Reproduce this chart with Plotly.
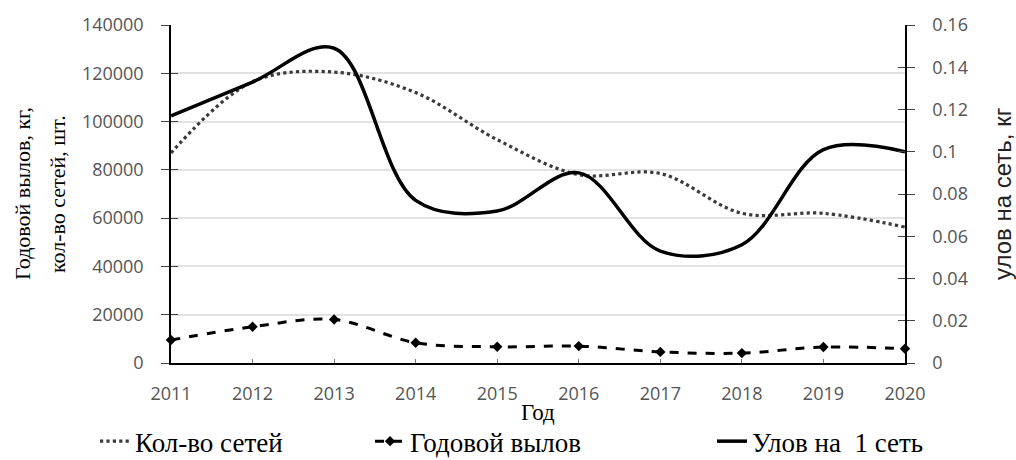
import plotly.graph_objects as go

# Годы наблюдений
years = [2011, 2012, 2013, 2014, 2015, 2016, 2017, 2018, 2019, 2020]

# Количество сетей, шт.
nets_count = [87000, 116500, 120500, 112000, 92500, 78000, 78500, 62000, 62000, 56300]

# Годовой вылов, кг
annual_catch = [9500, 15000, 18000, 8400, 6700, 7000, 4600, 4100, 6600, 5900]

# Улов на 1 сеть, кг
catch_per_net = [0.117, 0.133, 0.149, 0.077, 0.072, 0.090, 0.053, 0.056, 0.101, 0.100]

left_ticks = [0, 20000, 40000, 60000, 80000, 100000, 120000, 140000]
right_ticks = [0, 0.02, 0.04, 0.06, 0.08, 0.10, 0.12, 0.14, 0.16]
right_labels = ["0", "0.02", "0.04", "0.06", "0.08", "0.1", "0.12", "0.14", "0.16"]

W, H = 1016, 460
ML, MR, MT, MB = 171, 111, 25, 97
PW = W - ML - MR
PH = H - MT - MB

tick_font = dict(family="Open Sans", size=18, color="#555555")
serif = "Liberation Serif, DejaVu Serif, serif"
sans = "Liberation Sans, DejaVu Sans, sans-serif"

fig = go.Figure()

fig.add_trace(go.Scatter(
    x=years, y=nets_count, name="Кол-во сетей", mode="lines",
    line=dict(color="#3a3a3a", width=3.2, dash="dot", shape="spline", smoothing=1.0),
    yaxis="y", cliponaxis=False, legend="legend",
))

fig.add_trace(go.Scatter(
    x=years, y=annual_catch, name="Годовой вылов", mode="lines+markers",
    line=dict(color="black", width=3, dash="dash", shape="spline", smoothing=1.0),
    marker=dict(symbol="diamond", size=8, color="black"),
    yaxis="y", cliponaxis=False, legend="legend2",
))

fig.add_trace(go.Scatter(
    x=years, y=catch_per_net, name="Улов на  1 сеть", mode="lines",
    line=dict(color="black", width=3.5, shape="spline", smoothing=1.0),
    yaxis="y2", cliponaxis=False, legend="legend3",
))

# Вспомогательные оси: внутренние засечки, чтобы деления пересекали ось
fig.add_trace(go.Scatter(x=[years[0]], y=[None], yaxis="y3", showlegend=False,
                         hoverinfo="skip"))
fig.add_trace(go.Scatter(x=[years[0]], y=[None], yaxis="y4", showlegend=False,
                         hoverinfo="skip"))

legend_common = dict(
    orientation="h", xref="container", yref="container",
    y=0.04, yanchor="middle", xanchor="left",
    font=dict(family=serif, size=27, color="black"),
    bgcolor="rgba(0,0,0,0)", borderwidth=0,
)

fig.update_layout(
    width=W, height=H,
    font=dict(family=serif),
    margin=dict(l=ML, r=MR, t=MT, b=MB, autoexpand=False),
    paper_bgcolor="white", plot_bgcolor="white",
    showlegend=True,
    legend=dict(legend_common, x=95 / W),
    legend2=dict(legend_common, x=370 / W),
    legend3=dict(legend_common, x=712 / W),
    xaxis=dict(
        range=[2011, 2020], tickmode="array", tickvals=years,
        ticktext=[str(y) for y in years], tickfont=tick_font,
        showline=True, linecolor="black", linewidth=1.5,
        ticks="inside", ticklen=4, tickcolor="#777777",
        ticklabelstandoff=14,
        showgrid=False, zeroline=False,
    ),
    yaxis=dict(
        range=[0, 140000], tickmode="array", tickvals=left_ticks,
        ticktext=[str(v) for v in left_ticks], tickfont=tick_font,
        showline=True, linecolor="black", linewidth=1.5,
        ticks="outside", ticklen=8, tickcolor="#444444",
        ticklabelstandoff=14,
        showgrid=True, gridcolor="#e2e2e2", gridwidth=2, zeroline=False,
    ),
    yaxis2=dict(
        range=[0, 0.16], overlaying="y", side="right",
        tickmode="array", tickvals=right_ticks, ticktext=right_labels,
        tickfont=tick_font,
        showline=True, linecolor="black", linewidth=1.5,
        ticks="outside", ticklen=8, tickcolor="#444444",
        ticklabelstandoff=14,
        showgrid=False, zeroline=False,
    ),
    yaxis3=dict(
        range=[0, 140000], overlaying="y", side="left",
        tickmode="array", tickvals=left_ticks, ticks="inside", ticklen=7,
        tickcolor="#444444", showticklabels=False, showline=False,
        showgrid=False, zeroline=False,
    ),
    yaxis4=dict(
        range=[0, 0.16], overlaying="y", side="right",
        tickmode="array", tickvals=right_ticks, ticks="inside", ticklen=7,
        tickcolor="#444444", showticklabels=False, showline=False,
        showgrid=False, zeroline=False,
    ),
    annotations=[
        dict(text="Год", showarrow=False,
             xref="paper", yref="paper", x=0.5, y=-(412 - (MT + PH)) / PH,
             xanchor="center", yanchor="middle",
             font=dict(family=serif, size=23, color="black")),
        dict(text="Годовой вылов, кг,", textangle=-90, showarrow=False,
             xref="paper", yref="paper", x=(22 - ML) / PW, y=0.5,
             xanchor="center", yanchor="middle",
             font=dict(family=serif, size=22, color="black")),
        dict(text="кол-во сетей, шт.", textangle=-90, showarrow=False,
             xref="paper", yref="paper", x=(57 - ML) / PW, y=0.5,
             xanchor="center", yanchor="middle",
             font=dict(family=serif, size=22, color="black")),
        dict(text="улов на сеть, кг", textangle=-90, showarrow=False,
             xref="paper", yref="paper", x=(1002 - ML) / PW, y=0.5,
             xanchor="center", yanchor="middle",
             font=dict(family=sans, size=24, color="#222222")),
    ],
)

fig.write_html("out.html")
